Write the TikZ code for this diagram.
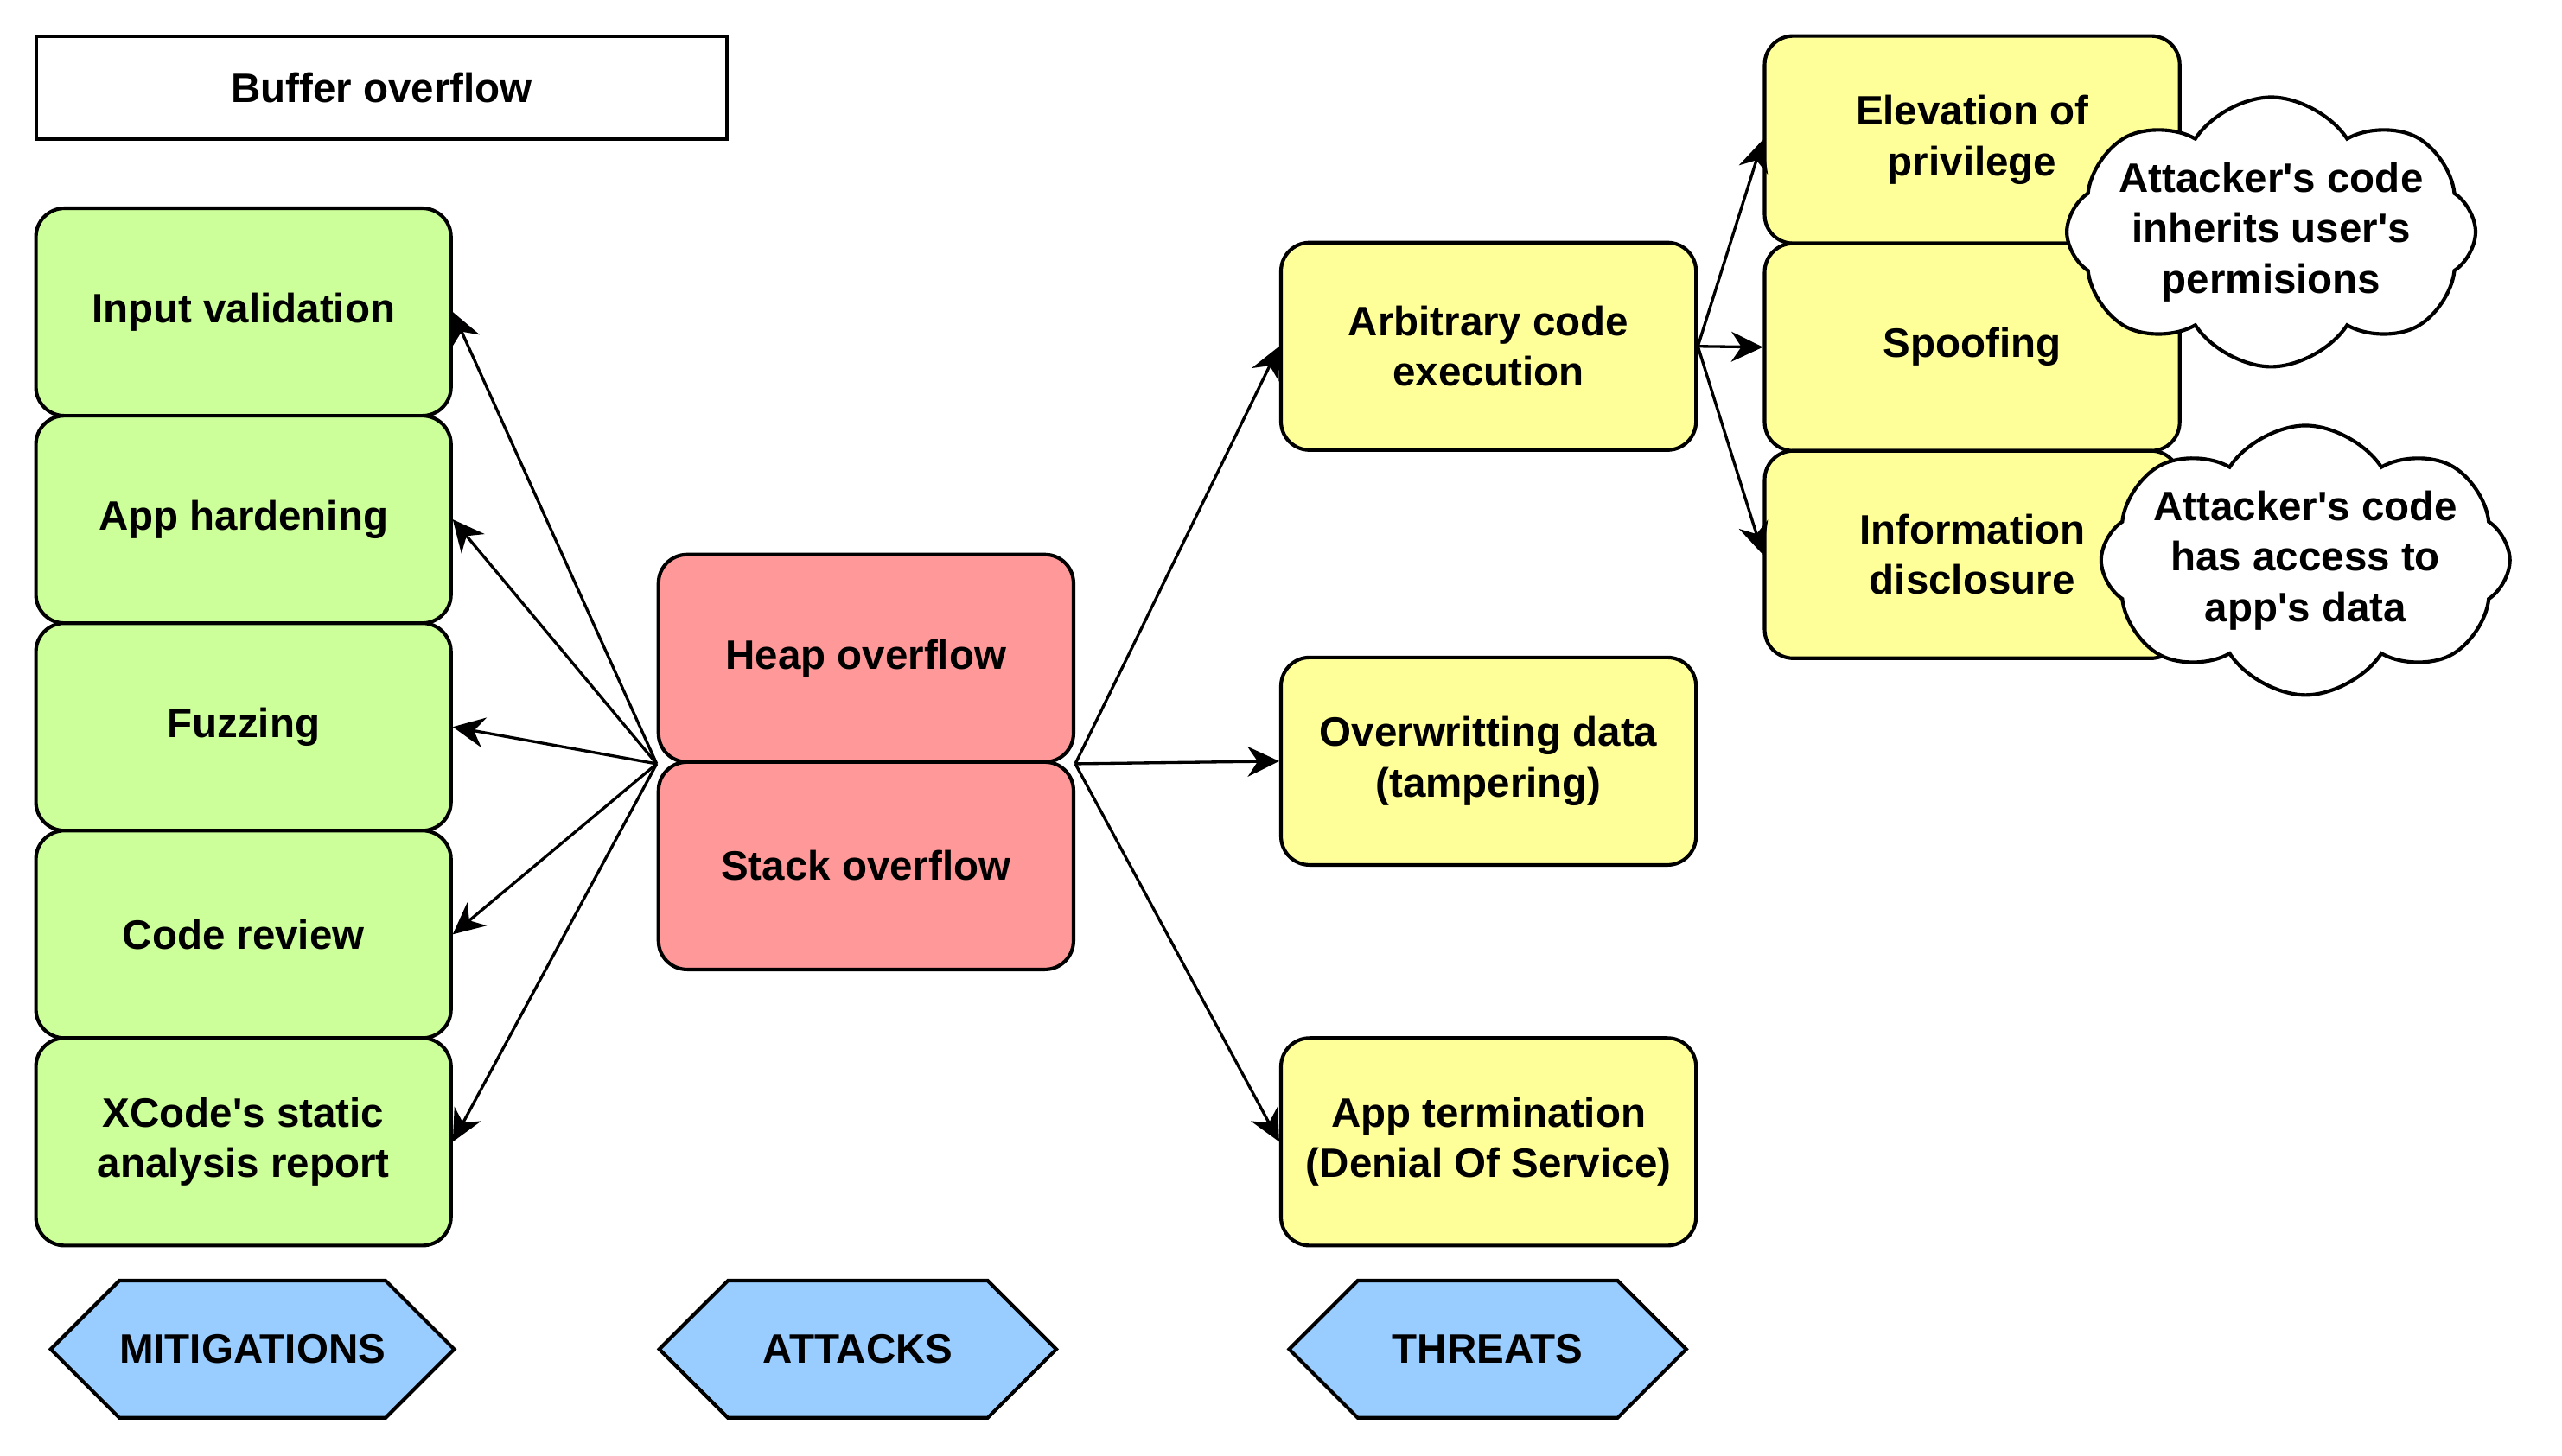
\documentclass[tikz,border=0pt]{standalone}
\usepackage{fontspec}
\setmainfont{Liberation Sans}[Ligatures=TeXOff]
\usepackage{tikz}
\usetikzlibrary{arrows.meta,shapes.symbols}

\definecolor{mitgreen}{HTML}{CCFF99}
\definecolor{attred}{HTML}{FF9999}
\definecolor{thryellow}{HTML}{FFFF99}
\definecolor{tagblue}{HTML}{99CCFF}

\tikzset{
  every node/.style={font=\bfseries\fontsize{14.3pt}{17.6pt}\selectfont, align=center},
  box/.style={draw, line width=1.25pt, rounded corners=0.35cm, minimum width=5.08cm, minimum height=2.54cm, inner sep=2pt},
  mitbox/.style={box, fill=mitgreen},
  attbox/.style={box, fill=attred},
  thrbox/.style={box, fill=thryellow},
  tag/.style={draw, line width=1.25pt, fill=tagblue, shape=signal, signal to=east and west, signal pointer angle=90, minimum width=4.86cm, minimum height=1.68cm, inner sep=0pt},
  note/.style={draw, line width=1.25pt, fill=white, cloud, cloud puffs=8, cloud puff arc=115, cloud ignores aspect, minimum width=4.6cm, minimum height=3.3cm, inner xsep=-4pt, inner ysep=0pt},
  arr/.style={-{Stealth[length=11pt,width=10.5pt,inset=3.5pt]}, line width=1pt}
}

\begin{document}
\begin{tikzpicture}
  \useasboundingbox (0,0) rectangle (31.36,-17.818);

  \node[draw, line width=1.25pt, minimum width=8.46cm, minimum height=1.26cm] (title) at (4.67,-1.07) {Buffer overflow};

  % mitigations
  \node[mitbox] (inputval) at (2.98,-3.82) {Input validation};
  \node[mitbox] (hardening) at (2.98,-6.36) {App hardening};
  \node[mitbox] (fuzzing) at (2.98,-8.90) {Fuzzing};
  \node[mitbox] (review) at (2.98,-11.44) {Code review};
  \node[mitbox] (xcode) at (2.98,-13.98) {XCode's static\\analysis report};

  % attacks
  \node[attbox] (heap) at (10.6,-8.06) {Heap overflow};
  \node[attbox] (stack) at (10.6,-10.6) {Stack overflow};

  % threats
  \node[thrbox] (arbitrary) at (18.22,-4.24) {Arbitrary code\\execution};
  \node[thrbox] (overwrite) at (18.22,-9.32) {Overwritting data\\(tampering)};
  \node[thrbox] (termination) at (18.22,-13.98) {App termination\\(Denial Of Service)};

  \node[thrbox] (elevation) at (24.14,-1.71) {Elevation of\\privilege};
  \node[thrbox] (spoofing) at (24.14,-4.25) {Spoofing};
  \node[thrbox] (disclosure) at (24.14,-6.79) {Information\\disclosure};

  \node[note] (inherits) at (27.8,-2.84) {Attacker's code\\inherits user's\\permisions};
  \node[note] (access) at (28.22,-6.86) {Attacker's code\\has access to\\app's data};

  \draw[arr] (heap.south west) -- (inputval.east);
  \draw[arr] (heap.south west) -- (hardening.east);
  \draw[arr] (heap.south west) -- (fuzzing.east);
  \draw[arr] (heap.south west) -- (review.east);
  \draw[arr] (heap.south west) -- (xcode.east);

  \draw[arr] (heap.south east) -- (arbitrary.west);
  \draw[arr] (heap.south east) -- (overwrite.west);
  \draw[arr] (heap.south east) -- (termination.west);

  \draw[arr] (arbitrary.east) -- (elevation.west);
  \draw[arr] (arbitrary.east) -- (spoofing.west);
  \draw[arr] (arbitrary.east) -- (disclosure.west);

  \node[tag] (mitigations) at (3.09,-16.52) {MITIGATIONS};
  \node[tag] (attacks) at (10.5,-16.52) {ATTACKS};
  \node[tag] (threats) at (18.21,-16.52) {THREATS};
\end{tikzpicture}
\end{document}
